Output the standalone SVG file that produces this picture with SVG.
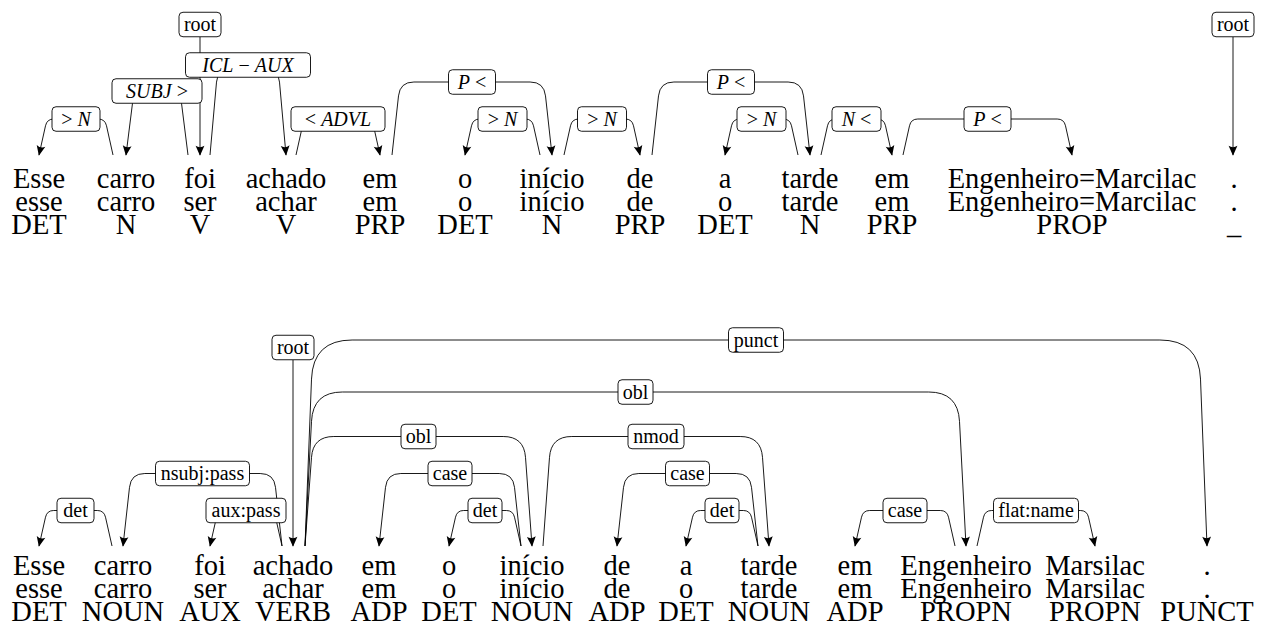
<svg xmlns="http://www.w3.org/2000/svg" id="d" width="1261" height="637" viewBox="0 0 1261 637">
<defs>
<style>
svg#d text, svg#d g text, svg#d g text tspan{font-family:'Liberation Serif',serif !important}
.w{font-size:28.5px;fill:#000;text-anchor:middle}
.l{font-size:20px;fill:#000;text-anchor:middle}
.i{font-style:italic}
.b{fill:#fff;stroke:#000;stroke-width:0.9}
.e{fill:none;stroke:#000;stroke-width:0.9;marker-end:url(#ah)}
</style>
<marker id="ah" markerUnits="userSpaceOnUse" markerWidth="12" markerHeight="12" viewBox="-8 -4 9 8" refX="0" refY="0" orient="auto">
<path d="M0.5,0 L-7,-3.3 Q-4.8,0 -7,3.3 Z" fill="#000"/>
</marker>
</defs>
<rect width="1261" height="637" fill="#fff"/>

<g id="connectors">
<path class="e" d="M113,155 L106.5,125.8 Q105,119 98.2,119 L53.8,119 Q47,119 45.5,125.8 L39,155"/>
<path class="e" d="M188,155 L181.5,103.2 Q180,91 167.8,91 L146.2,91 Q134,91 132.5,103.2 L126,155"/>
<path class="e" d="M210,155 L216.5,82.1 Q218,65 235.1,65 L260.9,65 Q278,65 279.5,82.1 L286,155"/>
<path class="e" d="M200,37 L200,155"/>
<path class="e" d="M296,155 L302.5,125.8 Q304,119 310.8,119 L365.2,119 Q372,119 373.5,125.8 L380,155"/>
<path class="e" d="M392,155 L398.5,95.9 Q400,82 413.9,82 L530.1,82 Q544,82 545.5,95.9 L552,155"/>
<path class="e" d="M540,155 L533.5,125.8 Q532,119 525.2,119 L479.8,119 Q473,119 471.5,125.8 L465,155"/>
<path class="e" d="M564,155 L570.5,125.8 Q572,119 578.8,119 L625.2,119 Q632,119 633.5,125.8 L640,155"/>
<path class="e" d="M652,155 L658.5,95.9 Q660,82 673.9,82 L788.1,82 Q802,82 803.5,95.9 L810,155"/>
<path class="e" d="M798,155 L791.5,125.8 Q790,119 783.2,119 L739.8,119 Q733,119 731.5,125.8 L725,155"/>
<path class="e" d="M821,155 L827.5,125.8 Q829,119 835.8,119 L877.2,119 Q884,119 885.5,125.8 L892,155"/>
<path class="e" d="M903,155 L909.5,125.8 Q911,119 917.8,119 L1057.2,119 Q1064,119 1065.5,125.8 L1072,155"/>
<path class="e" d="M1233,37 L1233,155"/>
<path class="e" d="M112,546 L105.5,517.2 Q104,510.5 97.3,510.5 L53.7,510.5 Q47,510.5 45.5,517.2 L39,546"/>
<path class="e" d="M282,546 L275.5,487.3 Q274,473.5 260.2,473.5 L144.8,473.5 Q131,473.5 129.5,487.3 L123,546"/>
<path class="e" d="M282,546 L275.5,517.2 Q274,510.5 267.3,510.5 L224.7,510.5 Q218,510.5 216.5,517.2 L210,546"/>
<path class="e" d="M293,360 L293,546"/>
<path class="e" d="M305,546 L311.5,379.1 Q313,340 352.1,340 L1159.9,340 Q1199,340 1200.5,379.1 L1207,546"/>
<path class="e" d="M305,546 L311.5,421.3 Q313,392 342.3,392 L928.7,392 Q958,392 959.5,421.3 L966,546"/>
<path class="e" d="M305,546 L311.5,457.3 Q313,436.5 333.8,436.5 L503.2,436.5 Q524,436.5 525.5,457.3 L532,546"/>
<path class="e" d="M521,546 L514.5,487.3 Q513,473.5 499.2,473.5 L400.8,473.5 Q387,473.5 385.5,487.3 L379,546"/>
<path class="e" d="M521,546 L514.5,517.2 Q513,510.5 506.3,510.5 L463.7,510.5 Q457,510.5 455.5,517.2 L449,546"/>
<path class="e" d="M543,546 L549.5,457.3 Q551,436.5 571.8,436.5 L740.2,436.5 Q761,436.5 762.5,457.3 L769,546"/>
<path class="e" d="M758,546 L751.5,487.3 Q750,473.5 736.2,473.5 L638.8,473.5 Q625,473.5 623.5,487.3 L617,546"/>
<path class="e" d="M758,546 L751.5,517.2 Q750,510.5 743.3,510.5 L700.7,510.5 Q694,510.5 692.5,517.2 L686,546"/>
<path class="e" d="M955,546 L948.5,517.2 Q947,510.5 940.3,510.5 L869.7,510.5 Q863,510.5 861.5,517.2 L855,546"/>
<path class="e" d="M977,546 L983.5,517.2 Q985,510.5 991.7,510.5 L1080.3,510.5 Q1087,510.5 1088.5,517.2 L1095,546"/>
</g>

<g id="t-lab-1"><rect class="b" x="52" y="106.75" width="48" height="24.5" rx="4"/><text class="l" style="font-family:'Liberation Serif',serif" x="76" y="125.5">&gt;<tspan class="i" dx="5">N</tspan></text></g>
<g id="t-lab-2"><rect class="b" x="112" y="78.75" width="90" height="24.5" rx="4"/><text class="l" style="font-family:'Liberation Serif',serif" x="157" y="97.5"><tspan class="i">SUBJ</tspan><tspan dx="5">&gt;</tspan></text></g>
<g id="t-lab-3"><rect class="b" x="185.5" y="52.75" width="125" height="24.5" rx="4"/><text class="l" style="font-family:'Liberation Serif',serif" x="248" y="71.5"><tspan class="i">ICL</tspan><tspan dx="5">&#8722;</tspan><tspan class="i" dx="5">AUX</tspan></text></g>
<g id="t-lab-root1"><rect class="b" x="179" y="12.25" width="42" height="24.5" rx="4"/><text class="l" style="font-family:'Liberation Serif',serif" x="200" y="31">root</text></g>
<g id="t-lab-4"><rect class="b" x="291" y="106.75" width="94" height="24.5" rx="4"/><text class="l" style="font-family:'Liberation Serif',serif" x="338" y="125.5">&lt;<tspan class="i" dx="5">ADVL</tspan></text></g>
<g id="t-lab-5"><rect class="b" x="448.5" y="69.75" width="47" height="24.5" rx="4"/><text class="l" style="font-family:'Liberation Serif',serif" x="472" y="88.5"><tspan class="i">P</tspan><tspan dx="5">&lt;</tspan></text></g>
<g id="t-lab-6"><rect class="b" x="478" y="106.75" width="49" height="24.5" rx="4"/><text class="l" style="font-family:'Liberation Serif',serif" x="502.5" y="125.5">&gt;<tspan class="i" dx="5">N</tspan></text></g>
<g id="t-lab-7"><rect class="b" x="577.5" y="106.75" width="49" height="24.5" rx="4"/><text class="l" style="font-family:'Liberation Serif',serif" x="602" y="125.5">&gt;<tspan class="i" dx="5">N</tspan></text></g>
<g id="t-lab-8"><rect class="b" x="707.5" y="69.75" width="47" height="24.5" rx="4"/><text class="l" style="font-family:'Liberation Serif',serif" x="731" y="88.5"><tspan class="i">P</tspan><tspan dx="5">&lt;</tspan></text></g>
<g id="t-lab-9"><rect class="b" x="737" y="106.75" width="49" height="24.5" rx="4"/><text class="l" style="font-family:'Liberation Serif',serif" x="761.5" y="125.5">&gt;<tspan class="i" dx="5">N</tspan></text></g>
<g id="t-lab-10"><rect class="b" x="832" y="106.75" width="49" height="24.5" rx="4"/><text class="l" style="font-family:'Liberation Serif',serif" x="856.5" y="125.5"><tspan class="i">N</tspan><tspan dx="5">&lt;</tspan></text></g>
<g id="t-lab-11"><rect class="b" x="964" y="106.75" width="47" height="24.5" rx="4"/><text class="l" style="font-family:'Liberation Serif',serif" x="987.5" y="125.5"><tspan class="i">P</tspan><tspan dx="5">&lt;</tspan></text></g>
<g id="t-lab-root2"><rect class="b" x="1212" y="12.25" width="42" height="24.5" rx="4"/><text class="l" style="font-family:'Liberation Serif',serif" x="1233" y="31">root</text></g>

<g id="b-lab-det1"><rect class="b" x="57" y="498.25" width="37" height="24.5" rx="4"/><text class="l" style="font-family:'Liberation Serif',serif" x="75.5" y="517">det</text></g>
<g id="b-lab-nsubj"><rect class="b" x="155.5" y="461.25" width="94" height="24.5" rx="4"/><text class="l" style="font-family:'Liberation Serif',serif" x="202.5" y="480">nsubj:pass</text></g>
<g id="b-lab-aux"><rect class="b" x="206" y="498.25" width="80" height="24.5" rx="4"/><text class="l" style="font-family:'Liberation Serif',serif" x="246" y="517">aux:pass</text></g>
<g id="b-lab-root"><rect class="b" x="272" y="335.25" width="42" height="24.5" rx="4"/><text class="l" style="font-family:'Liberation Serif',serif" x="293" y="354">root</text></g>
<g id="b-lab-punct"><rect class="b" x="728.5" y="327.75" width="55" height="24.5" rx="4"/><text class="l" style="font-family:'Liberation Serif',serif" x="756" y="346.5">punct</text></g>
<g id="b-lab-obl1"><rect class="b" x="618" y="379.75" width="35" height="24.5" rx="4"/><text class="l" style="font-family:'Liberation Serif',serif" x="635.5" y="398.5">obl</text></g>
<g id="b-lab-obl2"><rect class="b" x="401" y="424.25" width="35" height="24.5" rx="4"/><text class="l" style="font-family:'Liberation Serif',serif" x="418.5" y="443">obl</text></g>
<g id="b-lab-case1"><rect class="b" x="428" y="461.25" width="44" height="24.5" rx="4"/><text class="l" style="font-family:'Liberation Serif',serif" x="450" y="480">case</text></g>
<g id="b-lab-det2"><rect class="b" x="468" y="498.25" width="34" height="24.5" rx="4"/><text class="l" style="font-family:'Liberation Serif',serif" x="485" y="517">det</text></g>
<g id="b-lab-nmod"><rect class="b" x="628" y="424.25" width="56" height="24.5" rx="4"/><text class="l" style="font-family:'Liberation Serif',serif" x="656" y="443">nmod</text></g>
<g id="b-lab-case2"><rect class="b" x="665.5" y="461.25" width="44" height="24.5" rx="4"/><text class="l" style="font-family:'Liberation Serif',serif" x="687.5" y="480">case</text></g>
<g id="b-lab-det3"><rect class="b" x="705" y="498.25" width="34" height="24.5" rx="4"/><text class="l" style="font-family:'Liberation Serif',serif" x="722" y="517">det</text></g>
<g id="b-lab-case3"><rect class="b" x="883" y="498.25" width="44" height="24.5" rx="4"/><text class="l" style="font-family:'Liberation Serif',serif" x="905" y="517">case</text></g>
<g id="b-lab-flat"><rect class="b" x="993.5" y="498.25" width="85" height="24.5" rx="4"/><text class="l" style="font-family:'Liberation Serif',serif" x="1036" y="517">flat:name</text></g>

<g id="t-w1"><text class="w" style="font-family:'Liberation Serif',serif" x="39" y="188">Esse</text><text class="w" style="font-family:'Liberation Serif',serif" x="39" y="211">esse</text><text class="w" style="font-family:'Liberation Serif',serif" x="39" y="234">DET</text></g>
<g id="t-w2"><text class="w" style="font-family:'Liberation Serif',serif" x="126" y="188">carro</text><text class="w" style="font-family:'Liberation Serif',serif" x="126" y="211">carro</text><text class="w" style="font-family:'Liberation Serif',serif" x="126" y="234">N</text></g>
<g id="t-w3"><text class="w" style="font-family:'Liberation Serif',serif" x="200" y="188">foi</text><text class="w" style="font-family:'Liberation Serif',serif" x="200" y="211">ser</text><text class="w" style="font-family:'Liberation Serif',serif" x="200" y="234">V</text></g>
<g id="t-w4"><text class="w" style="font-family:'Liberation Serif',serif" x="286" y="188">achado</text><text class="w" style="font-family:'Liberation Serif',serif" x="286" y="211">achar</text><text class="w" style="font-family:'Liberation Serif',serif" x="286" y="234">V</text></g>
<g id="t-w5"><text class="w" style="font-family:'Liberation Serif',serif" x="380" y="188">em</text><text class="w" style="font-family:'Liberation Serif',serif" x="380" y="211">em</text><text class="w" style="font-family:'Liberation Serif',serif" x="380" y="234">PRP</text></g>
<g id="t-w6"><text class="w" style="font-family:'Liberation Serif',serif" x="465" y="188">o</text><text class="w" style="font-family:'Liberation Serif',serif" x="465" y="211">o</text><text class="w" style="font-family:'Liberation Serif',serif" x="465" y="234">DET</text></g>
<g id="t-w7"><text class="w" style="font-family:'Liberation Serif',serif" x="552" y="188">in&#237;cio</text><text class="w" style="font-family:'Liberation Serif',serif" x="552" y="211">in&#237;cio</text><text class="w" style="font-family:'Liberation Serif',serif" x="552" y="234">N</text></g>
<g id="t-w8"><text class="w" style="font-family:'Liberation Serif',serif" x="640" y="188">de</text><text class="w" style="font-family:'Liberation Serif',serif" x="640" y="211">de</text><text class="w" style="font-family:'Liberation Serif',serif" x="640" y="234">PRP</text></g>
<g id="t-w9"><text class="w" style="font-family:'Liberation Serif',serif" x="725" y="188">a</text><text class="w" style="font-family:'Liberation Serif',serif" x="725" y="211">o</text><text class="w" style="font-family:'Liberation Serif',serif" x="725" y="234">DET</text></g>
<g id="t-w10"><text class="w" style="font-family:'Liberation Serif',serif" x="810" y="188">tarde</text><text class="w" style="font-family:'Liberation Serif',serif" x="810" y="211">tarde</text><text class="w" style="font-family:'Liberation Serif',serif" x="810" y="234">N</text></g>
<g id="t-w11"><text class="w" style="font-family:'Liberation Serif',serif" x="892" y="188">em</text><text class="w" style="font-family:'Liberation Serif',serif" x="892" y="211">em</text><text class="w" style="font-family:'Liberation Serif',serif" x="892" y="234">PRP</text></g>
<g id="t-w12"><text class="w" style="font-family:'Liberation Serif',serif" x="1072" y="188">Engenheiro=Marcilac</text><text class="w" style="font-family:'Liberation Serif',serif" x="1072" y="211">Engenheiro=Marcilac</text><text class="w" style="font-family:'Liberation Serif',serif" x="1072" y="234">PROP</text></g>
<g id="t-w13"><text class="w" style="font-family:'Liberation Serif',serif" x="1234" y="188">.</text><text class="w" style="font-family:'Liberation Serif',serif" x="1234" y="211">.</text><text class="w" style="font-family:'Liberation Serif',serif" x="1234" y="234">_</text></g>

<g id="b-w1"><text class="w" style="font-family:'Liberation Serif',serif" x="39" y="575">Esse</text><text class="w" style="font-family:'Liberation Serif',serif" x="39" y="598">esse</text><text class="w" style="font-family:'Liberation Serif',serif" x="39" y="621">DET</text></g>
<g id="b-w2"><text class="w" style="font-family:'Liberation Serif',serif" x="123" y="575">carro</text><text class="w" style="font-family:'Liberation Serif',serif" x="123" y="598">carro</text><text class="w" style="font-family:'Liberation Serif',serif" x="123" y="621">NOUN</text></g>
<g id="b-w3"><text class="w" style="font-family:'Liberation Serif',serif" x="210" y="575">foi</text><text class="w" style="font-family:'Liberation Serif',serif" x="210" y="598">ser</text><text class="w" style="font-family:'Liberation Serif',serif" x="210" y="621">AUX</text></g>
<g id="b-w4"><text class="w" style="font-family:'Liberation Serif',serif" x="293" y="575">achado</text><text class="w" style="font-family:'Liberation Serif',serif" x="293" y="598">achar</text><text class="w" style="font-family:'Liberation Serif',serif" x="293" y="621">VERB</text></g>
<g id="b-w5"><text class="w" style="font-family:'Liberation Serif',serif" x="379" y="575">em</text><text class="w" style="font-family:'Liberation Serif',serif" x="379" y="598">em</text><text class="w" style="font-family:'Liberation Serif',serif" x="379" y="621">ADP</text></g>
<g id="b-w6"><text class="w" style="font-family:'Liberation Serif',serif" x="449" y="575">o</text><text class="w" style="font-family:'Liberation Serif',serif" x="449" y="598">o</text><text class="w" style="font-family:'Liberation Serif',serif" x="449" y="621">DET</text></g>
<g id="b-w7"><text class="w" style="font-family:'Liberation Serif',serif" x="532" y="575">in&#237;cio</text><text class="w" style="font-family:'Liberation Serif',serif" x="532" y="598">in&#237;cio</text><text class="w" style="font-family:'Liberation Serif',serif" x="532" y="621">NOUN</text></g>
<g id="b-w8"><text class="w" style="font-family:'Liberation Serif',serif" x="617" y="575">de</text><text class="w" style="font-family:'Liberation Serif',serif" x="617" y="598">de</text><text class="w" style="font-family:'Liberation Serif',serif" x="617" y="621">ADP</text></g>
<g id="b-w9"><text class="w" style="font-family:'Liberation Serif',serif" x="686" y="575">a</text><text class="w" style="font-family:'Liberation Serif',serif" x="686" y="598">o</text><text class="w" style="font-family:'Liberation Serif',serif" x="686" y="621">DET</text></g>
<g id="b-w10"><text class="w" style="font-family:'Liberation Serif',serif" x="769" y="575">tarde</text><text class="w" style="font-family:'Liberation Serif',serif" x="769" y="598">tarde</text><text class="w" style="font-family:'Liberation Serif',serif" x="769" y="621">NOUN</text></g>
<g id="b-w11"><text class="w" style="font-family:'Liberation Serif',serif" x="855" y="575">em</text><text class="w" style="font-family:'Liberation Serif',serif" x="855" y="598">em</text><text class="w" style="font-family:'Liberation Serif',serif" x="855" y="621">ADP</text></g>
<g id="b-w12"><text class="w" style="font-family:'Liberation Serif',serif" x="966" y="575">Engenheiro</text><text class="w" style="font-family:'Liberation Serif',serif" x="966" y="598">Engenheiro</text><text class="w" style="font-family:'Liberation Serif',serif" x="966" y="621">PROPN</text></g>
<g id="b-w13"><text class="w" style="font-family:'Liberation Serif',serif" x="1095" y="575">Marsilac</text><text class="w" style="font-family:'Liberation Serif',serif" x="1095" y="598">Marsilac</text><text class="w" style="font-family:'Liberation Serif',serif" x="1095" y="621">PROPN</text></g>
<g id="b-w14"><text class="w" style="font-family:'Liberation Serif',serif" x="1207" y="575">.</text><text class="w" style="font-family:'Liberation Serif',serif" x="1207" y="598">.</text><text class="w" style="font-family:'Liberation Serif',serif" x="1207" y="621">PUNCT</text></g>
</svg>
